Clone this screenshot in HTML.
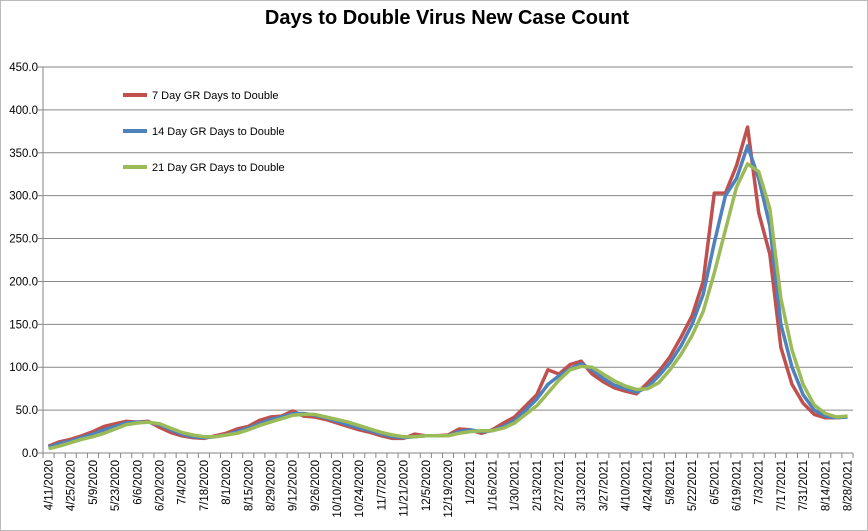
<!DOCTYPE html>
<html><head><meta charset="utf-8"><style>
html,body{margin:0;padding:0;background:#fff;}
svg{display:block;font-family:"Liberation Sans",sans-serif;}
</style></head><body>
<svg id="chart" width="868" height="531" xmlns="http://www.w3.org/2000/svg">
<rect x="0.5" y="0.5" width="867" height="530" fill="#fff" stroke="#bbb"/>
<text x="447" y="24" text-anchor="middle" font-size="20" font-weight="bold">Days to Double Virus New Case Count</text>
<g id="grid"></g><g id="axes"></g><g id="series"></g>
<g>
<line x1="123" y1="95" x2="147" y2="95" stroke="#c0504d" stroke-width="4"/>
<text x="152" y="99" font-size="11">7 Day GR Days to Double</text>
<line x1="123" y1="131" x2="147" y2="131" stroke="#4f81bd" stroke-width="4"/>
<text x="152" y="135" font-size="11">14 Day GR Days to Double</text>
<line x1="123" y1="167" x2="147" y2="167" stroke="#9bbb59" stroke-width="4"/>
<text x="152" y="171" font-size="11">21 Day GR Days to Double</text>
</g>
</svg>
<script>
const startDate = [2020,4,11];
const yTicks = [0,50,100,150,200,250,300,350,400,450];
const red7 = [8,13,16,20,25,31,34,37,36,37,30,24,20,18,17,20,23,28,31,38,42,43,49,43,42,39,35,31,27,24,20,17,17,22,20,20,21,28,27,23,27,35,42,55,68,97,92,103,107,92,83,76,72,69,82,95,112,135,160,200,303,303,335,380,280,232,123,80,58,45,41,41,43];
const blue14 = [7,11,14,18,22,27,31,35,36,36,33,27,22,19,18,19,21,25,29,34,39,42,46,46,44,41,37,33,29,26,22,19,18,19,20,20,20,25,27,25,26,31,38,50,63,80,90,98,104,97,87,79,75,71,77,90,105,125,150,185,245,300,320,358,320,265,150,100,68,50,43,41,42];
const green21 = [5,8,12,16,19,23,28,33,35,36,34,29,24,21,19,19,21,23,27,32,36,40,44,45,45,42,39,36,32,28,24,21,19,19,20,20,20,23,25,26,26,29,35,45,55,70,85,97,101,100,92,84,78,74,75,82,97,115,137,165,210,260,310,337,328,285,180,120,80,56,46,42,43];
const NS='http://www.w3.org/2000/svg';
const X0=43, X1=853, Y0=453, Y1=67, N=red7.length;
const step=(X1-X0)/N;
const xPos=i=>X0+(i+0.5)*step;
const yPos=v=>Y0-(v-0)/(450-0)*(Y0-Y1);
function mk(tag,attrs,parent){const e=document.createElementNS(NS,tag);for(const k in attrs)e.setAttribute(k,attrs[k]);parent.appendChild(e);return e;}
const grid=document.getElementById('grid'), axes=document.getElementById('axes'), ser=document.getElementById('series');
yTicks.forEach(t=>{
  const y=yPos(t);
  if(t>0){const g=mk('line',{x1:X0,x2:X1,y1:y,y2:y,stroke:'#868686','stroke-width':1},grid);
  
  }
  const tk=mk('line',{x1:X0-5,x2:X0,y1:y,y2:y,stroke:'#868686'},axes);
  
  
  const l=mk('text',{x:X0-5,y:y+4,'text-anchor':'end','font-size':11.5},axes);
  l.textContent=t.toFixed(1);
  
  
});
const ya=mk('line',{x1:X0,x2:X0,y1:Y1,y2:Y0,stroke:'#868686'},axes);


const xa=mk('line',{x1:X0,x2:X1,y1:Y0,y2:Y0,stroke:'#868686'},axes);


for(let i=0;i<=N;i++){
  const x=X0+i*step;
  const tk=mk('line',{x1:x,x2:x,y1:Y0,y2:Y0+5,stroke:'#868686'},axes);
  
  
}
for(let i=0;i<N;i+=2){
  const d=new Date(startDate[0],startDate[1]-1,startDate[2]+7*i);
  const s=(d.getMonth()+1)+'/'+d.getDate()+'/'+d.getFullYear();
  const x=xPos(i)+4,y=Y0+7;
  const l=mk('text',{x:x,y:y,'text-anchor':'end','font-size':11.5,transform:`rotate(-90 ${x} ${y})`},axes);
  l.textContent=s;
  
  
}
[[red7,'#c0504d','series-7day'],[blue14,'#4f81bd','series-14day'],[green21,'#9bbb59','series-21day']].forEach(([arr,c,n])=>{
  const p=mk('polyline',{points:arr.map((v,i)=>xPos(i).toFixed(1)+','+yPos(v).toFixed(1)).join(' '),fill:'none',stroke:c,'stroke-width':3.5,'stroke-linejoin':'round'},ser);
  
  
});
</script>
</body></html>
